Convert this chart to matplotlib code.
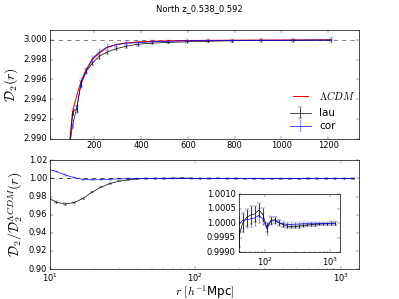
import numpy as np
import matplotlib
matplotlib.use("Agg")
import matplotlib.pyplot as plt
from matplotlib.lines import Line2D
from matplotlib.legend_handler import HandlerLine2D

plt.style.use("classic")

# ---- data ----
r = [9.56, 11.0, 12.7, 14.7, 16.9, 19.5, 22.5, 25.9, 29.9, 34.5,
     39.7, 45.8, 52.8, 60.9, 70.2, 81.0, 93.4, 107.7, 124.1, 143.1,
     165.0, 190.3, 219.4, 252.9, 291.6, 336.3, 387.7, 447.0, 515.4, 594.3,
     685.2, 790.0, 910.9, 1050.3, 1211.0]

d2_lcdm = [2.20, 2.35, 2.48, 2.59, 2.68, 2.75, 2.81, 2.86, 2.895, 2.92,
           2.94, 2.955, 2.966, 2.975, 2.981, 2.986, 2.9894, 2.9928, 2.9943, 2.9958,
           2.9970, 2.99795, 2.99862, 2.99920, 2.99950, 2.99968, 2.99978, 2.99985, 2.99989, 2.99992,
           2.99994, 2.99996, 2.99997, 2.99998, 2.99999]

d2_lau = [2.15, 2.29, 2.42, 2.54, 2.64, 2.72, 2.79, 2.845, 2.885, 2.915,
          2.935, 2.952, 2.964, 2.974, 2.980, 2.985, 2.9891, 2.9927, 2.9930, 2.9955,
          2.9968, 2.9976, 2.9983, 2.99874, 2.99908, 2.99935, 2.99955, 2.99966, 2.99973, 2.99980,
          2.99985, 2.99990, 2.99993, 2.99995, 2.99997]
e_lau = [0.002, 0.002, 0.002, 0.002, 0.001, 0.001, 0.001, 0.001, 0.001, 0.001,
         0.0008, 0.0006, 0.0005, 0.0004, 0.0004, 0.0004, 0.0003, 0.0003, 0.0003, 0.0003,
         0.0002, 0.0002, 0.0002, 0.00015, 0.00015, 0.00015, 0.00015, 0.00012, 0.0001, 0.0001,
         0.0001, 0.0001, 0.0001, 0.0001, 0.0001]

d2_cor = [2.22, 2.36, 2.485, 2.59, 2.68, 2.75, 2.81, 2.86, 2.895, 2.92,
          2.94, 2.955, 2.966, 2.975, 2.981, 2.986, 2.9890, 2.9915, 2.9930, 2.9957,
          2.9968, 2.99807, 2.99874, 2.99925, 2.99949, 2.99966, 2.99970, 2.99980, 2.99985, 2.99990,
          2.99992, 2.99994, 2.99995, 2.99996, 2.99997]
e_cor = [0.002, 0.002, 0.002, 0.002, 0.001, 0.001, 0.001, 0.001, 0.001, 0.001,
         0.0008, 0.0006, 0.0005, 0.0005, 0.0005, 0.0005, 0.0004, 0.0004, 0.0004, 0.0004,
         0.0003, 0.0003, 0.0003, 0.0003, 0.0002, 0.0002, 0.0002, 0.00015, 0.00015, 0.00015,
         0.00015, 0.00015, 0.00015, 0.00015, 0.0003]

ratio_lau = [0.9795, 0.9740, 0.9718, 0.9735, 0.9780, 0.9850, 0.9905, 0.9945, 0.9970, 0.9985,
             0.99950, 1.00000, 1.00020, 1.00028, 1.00032, 1.00045, 1.00030, 0.99985, 1.00010, 1.00012,
             1.00002, 0.99995, 0.99990, 0.99988, 0.99988, 0.99990, 0.99992, 0.99994, 0.99995, 0.99996,
             0.99997, 0.99998, 0.99998, 0.99999, 0.99999]
eratio_lau = [0.0008, 0.0008, 0.0008, 0.0006, 0.0005, 0.0004, 0.0004, 0.0004, 0.0003, 0.0003,
              0.00030, 0.00030, 0.00030, 0.00030, 0.00028, 0.00025, 0.00022, 0.00015, 0.00012, 0.00010,
              0.00008, 0.00007, 0.00006, 0.00006, 0.00005, 0.00005, 0.00005, 0.00004, 0.00004, 0.00004,
              0.00004, 0.00004, 0.00004, 0.00004, 0.00004]

ratio_cor = [1.0105, 1.0080, 1.0040, 1.0010, 0.9990, 0.9985, 0.9987, 0.9992, 0.9996, 0.9998,
             0.99995, 1.00010, 1.00012, 1.00015, 1.00018, 1.00027, 1.00015, 0.99980, 1.00008, 1.00008,
             1.00002, 0.99998, 0.99996, 0.99996, 0.99997, 0.99997, 0.99998, 0.99998, 0.99998, 0.99998,
             0.99999, 0.99999, 0.99999, 1.00000, 1.00000]
eratio_cor = [0.0008, 0.0008, 0.0008, 0.0006, 0.0005, 0.0004, 0.0004, 0.0004, 0.0003, 0.0003,
              0.00030, 0.00030, 0.00030, 0.00028, 0.00028, 0.00025, 0.00020, 0.00020, 0.00015, 0.00012,
              0.00010, 0.00010, 0.00008, 0.00008, 0.00008, 0.00007, 0.00007, 0.00007, 0.00006, 0.00006,
              0.00006, 0.00006, 0.00006, 0.00006, 0.00006]

title = "North z_0.538_0.592"
top_yticks = [2.990, 2.992, 2.994, 2.996, 2.998, 3.000]
top_xticks = [200, 400, 600, 800, 1000, 1200]
bot_yticks = [0.90, 0.92, 0.94, 0.96, 0.98, 1.00, 1.02]
ins_yticks = [0.9990, 0.9995, 1.0000, 1.0005, 1.0010]


class RedLineHandler(HandlerLine2D):
    def create_artists(self, *args, **kwargs):
        arts = super().create_artists(*args, **kwargs)
        for a in arts:
            a.set_color("red")
        return arts


# ---- figure ----
fig, (ax1, ax2) = plt.subplots(2, 1, figsize=(7.98, 5.98), dpi=50, facecolor="white")
fig.subplots_adjust(left=0.125, right=0.9, top=0.9, bottom=0.1, hspace=0.2)
fig.suptitle(title, fontsize=12, y=0.985)

rmax = r[-1] * 1.1
blue_e = (0, 0, 1, 0.6)

ax1.axhline(3.0, color="k", ls="--", lw=1, alpha=0.7)
h_lau = ax1.errorbar(r, d2_lau, yerr=e_lau, color="k", ecolor="k")
h_cor = ax1.errorbar(r, d2_cor, yerr=e_cor, color="b", ecolor=blue_e)
ax1.plot(r, d2_lcdm, color="red", lw=1.5)
h_lcdm = Line2D([], [], color="red", lw=1.5)
ax1.set_xlim(10, rmax)
ax1.set_ylim(2.990, 3.001)
ax1.set_xticks(top_xticks)
ax1.set_yticks(top_yticks)
ax1.set_yticklabels(["%.3f" % v for v in top_yticks])
ax1.set_ylabel(r"$\mathcal{D}_2(r)$", fontsize=20)

leg1 = ax1.legend([h_lcdm], [r"$\Lambda CDM$"], loc="lower left",
                  bbox_to_anchor=(0.753, 0.27), frameon=False, fontsize=15,
                  handlelength=2.0, borderaxespad=0.3,
                  handler_map={h_lcdm: RedLineHandler()})
ax1.add_artist(leg1)
ax1.legend([h_lau, h_cor], ["lau", "cor"], loc="lower left",
           bbox_to_anchor=(0.753, 0.0), frameon=False, fontsize=15, numpoints=1,
           handlelength=2.0, labelspacing=0.3, borderaxespad=0.3)
ax1.tick_params(labelsize=12)

ax2.axhline(1.0, color="k", ls="--", lw=1)
ax2.errorbar(r, ratio_lau, yerr=eratio_lau, color="k", ecolor="k")
ax2.errorbar(r, ratio_cor, yerr=eratio_cor, color="b", ecolor=blue_e)
ax2.set_xscale("log")
ax2.set_xlim(10, rmax)
ax2.set_ylim(0.90, 1.02)
ax2.set_yticks(bot_yticks)
ax2.set_yticklabels(["%.2f" % v for v in bot_yticks])
ax2.set_ylabel(r"$\mathcal{D}_2/\mathcal{D}_2^{\Lambda CDM}(r)$", fontsize=20)
ax2.set_xlabel(r"$r\ [h^{-1}$Mpc$]$", fontsize=17, labelpad=-2)
ax2.tick_params(labelsize=12)

ins = fig.add_axes([0.598, 0.156, 0.254, 0.195])
ins.errorbar(r[10:], ratio_lau[10:], yerr=eratio_lau[10:], color="k", ecolor="k")
ins.errorbar(r[10:], ratio_cor[10:], yerr=eratio_cor[10:], color="b", ecolor=blue_e)
ins.set_xscale("log")
ins.set_xlim(r[10], 1425)
ins.set_ylim(0.9990, 1.0010)
ins.set_yticks(ins_yticks)
ins.set_yticklabels(["%.4f" % v for v in ins_yticks])
ins.tick_params(labelsize=12)

fig.savefig("out.png", dpi=50, facecolor="white")
